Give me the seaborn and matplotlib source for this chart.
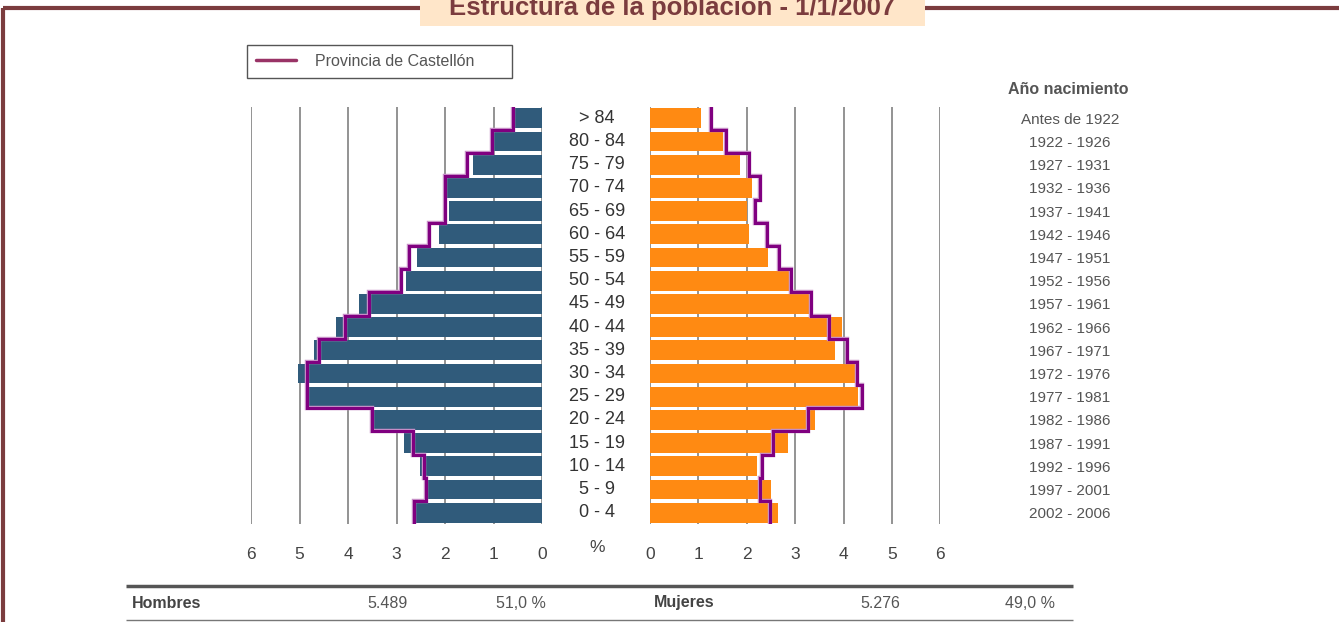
import matplotlib
matplotlib.use("Agg")
import matplotlib.pyplot as plt
import matplotlib.patheffects as pe
from matplotlib import font_manager
from matplotlib.lines import Line2D
from matplotlib.patches import Rectangle
import seaborn as sns
import pandas as pd
import numpy as np

W, H = 1339, 622

edades = ["> 84", "80 - 84", "75 - 79", "70 - 74", "65 - 69", "60 - 64",
          "55 - 59", "50 - 54", "45 - 49", "40 - 44", "35 - 39", "30 - 34",
          "25 - 29", "20 - 24", "15 - 19", "10 - 14", "5 - 9", "0 - 4"]
anios = ["Antes de 1922", "1922 - 1926", "1927 - 1931", "1932 - 1936",
         "1937 - 1941", "1942 - 1946", "1947 - 1951", "1952 - 1956",
         "1957 - 1961", "1962 - 1966", "1967 - 1971", "1972 - 1976",
         "1977 - 1981", "1982 - 1986", "1987 - 1991", "1992 - 1996",
         "1997 - 2001", "2002 - 2006"]
# % of population, municipality
hombres = [0.58, 1.01, 1.43, 1.97, 1.92, 2.13, 2.59, 2.81, 3.78, 4.25,
           4.70, 5.03, 4.84, 3.48, 2.85, 2.52, 2.38, 2.63]
mujeres = [1.05, 1.51, 1.86, 2.11, 2.01, 2.05, 2.44, 2.88, 3.29, 3.97,
           3.82, 4.26, 4.30, 3.40, 2.85, 2.22, 2.50, 2.64]
# % of population, province
prov_hombres = [0.60, 1.04, 1.56, 2.00, 2.00, 2.33, 2.74, 2.91, 3.57, 4.06,
                4.59, 4.85, 4.85, 3.51, 2.66, 2.44, 2.40, 2.64]
prov_mujeres = [1.25, 1.56, 2.04, 2.27, 2.17, 2.42, 2.67, 2.91, 3.32, 3.69,
                4.08, 4.28, 4.37, 3.27, 2.55, 2.31, 2.27, 2.48]
ticks = [0, 1, 2, 3, 4, 5, 6]
total_h, pct_h = "5.489", "51,0 %"
total_m, pct_m = "5.276", "49,0 %"

COL_H = "#305B7B"
COL_M = "#FF8A12"
COL_PROV = "#800080"
FRAME = "#7B3C3E"
GRAY = "#555555"

names = {f.name for f in font_manager.fontManager.ttflist}
NARROW = "Liberation Sans Narrow" if "Liberation Sans Narrow" in names else "Liberation Sans"
NSIZE = 0 if NARROW == "Liberation Sans Narrow" else -1.5

sns.set_style("white")
plt.rcParams["font.family"] = [NARROW, "DejaVu Sans"]

df = pd.DataFrame({"edad": edades, "hombres": hombres, "mujeres": mujeres})


def fx(x):
    return x / W


def fy(y):
    return 1 - y / H


fig = plt.figure(figsize=(W / 100, H / 100), dpi=100)

# overlay in pixel coordinates for the decorations
bg = fig.add_axes([0, 0, 1, 1])
bg.set_xlim(0, W)
bg.set_ylim(H, 0)
bg.axis("off")

bg.plot([3, W], [8, 8], color=FRAME, lw=3, solid_capstyle="butt", zorder=1)
bg.plot([3, 3], [8, H], color=FRAME, lw=3, solid_capstyle="butt", zorder=1)
bg.add_patch(Rectangle((420, -2), 505, 28, facecolor="#FFE6C9", edgecolor="none", zorder=2))
bg.text(672, 15, "Estructura de la población - 1/1/2007", ha="center",
        va="baseline", fontsize=20 + NSIZE, fontweight="bold", color=FRAME, zorder=3)

# table at the bottom
bg.plot([126, 1073], [586, 586], color="#555555", lw=2.5, solid_capstyle="butt")
bg.plot([126, 1073], [620, 620], color="#777777", lw=1, solid_capstyle="butt")
row_y = 603
bg.text(132, row_y, "Hombres", ha="left", va="center", fontsize=13 + NSIZE,
        fontweight="bold", color="#444444")
bg.text(387, row_y, total_h, ha="center", va="center", fontsize=13 + NSIZE, color=GRAY)
bg.text(521, row_y, pct_h, ha="center", va="center", fontsize=13 + NSIZE, color=GRAY)
bg.text(654, row_y, "Mujeres", ha="left", va="center", fontsize=13 + NSIZE,
        fontweight="bold", color="#444444")
bg.text(880, row_y, total_m, ha="center", va="center", fontsize=13 + NSIZE, color=GRAY)
bg.text(1030, row_y, pct_m, ha="center", va="center", fontsize=13 + NSIZE, color=GRAY)

bg.text(597, 548, "%", ha="center", va="center", fontsize=14 + NSIZE, color="#444444")
bg.text(1068, 89, "Año nacimiento", ha="center", va="center", fontsize=13 + NSIZE,
        fontweight="bold", color=GRAY)

top, bottom = 106.7, 524.3
n = len(edades)
pitch = (bottom - top) / n
for i, (e, a) in enumerate(zip(edades, anios)):
    yc = top + pitch * (i + 0.5)
    bg.text(597, yc, e, ha="center", va="center", fontsize=13,
            family="Liberation Sans", color="#333333")
    bg.text(1070, yc + 1.5, a, ha="center", va="center", fontsize=12.5 + NSIZE, color=GRAY)

halo = [pe.Stroke(linewidth=3.2, foreground="#C890C8"), pe.Normal()]
ys = np.repeat(np.arange(n), 2) + np.tile([-0.5, 0.5], n)


def panel(left, right, values_col, prov, color):
    ax = fig.add_axes([fx(left), fy(bottom), fx(right - left), (bottom - top) / H])
    ax.set_axisbelow(True)
    for t in ticks:
        ax.axvline(t, color="#8a8a8a", lw=1.3, zorder=0)
    sns.barplot(data=df, y="edad", x=values_col, orient="h", color=color,
                width=0.86, saturation=1, linewidth=0, ax=ax, zorder=2)
    ax.plot(np.repeat(prov, 2), ys, color=COL_PROV, lw=2.2, zorder=3,
            path_effects=halo, solid_joinstyle="miter")
    ax.set_ylim(n - 0.5, -0.5)
    ax.set_xticks(ticks)
    ax.set_xticklabels([str(t) for t in ticks], fontsize=14 + NSIZE, color="#444444")
    ax.tick_params(axis="x", length=0, pad=16)
    ax.set_yticks([])
    ax.set_xlabel("")
    ax.set_ylabel("")
    for s in ax.spines.values():
        s.set_visible(False)
    ax.patch.set_alpha(0)
    return ax


axL = panel(251, 542.3, "hombres", prov_hombres, COL_H)
axL.set_xlim(6, 0)
axR = panel(650, 940.4, "mujeres", prov_mujeres, COL_M)
axR.set_xlim(0, 6)

leg = fig.legend(handles=[Line2D([], [], color="#993366", lw=2.5)],
                 labels=["Provincia de Castellón"], loc="upper left",
                 bbox_to_anchor=(fx(247), fy(81), fx(265), 36 / H), mode="expand",
                 fancybox=False, edgecolor="#555555", framealpha=1,
                 fontsize=13 + NSIZE, handlelength=2.5, borderaxespad=0,
                 borderpad=0.55, handletextpad=1.2, labelcolor="#555555")
leg.get_frame().set_linewidth(1)

fig.savefig("out.png", dpi=100)
